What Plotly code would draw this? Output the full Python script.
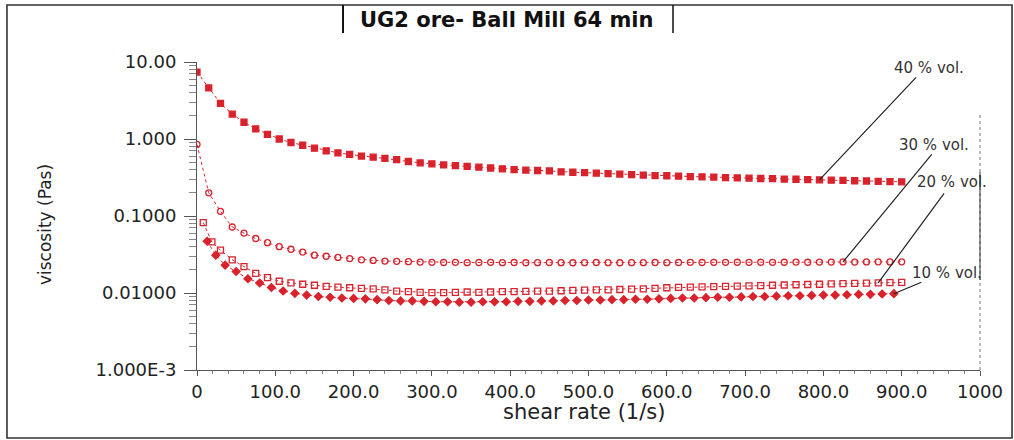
import math
import plotly.graph_objects as go

# Shear-rate sweeps (1/s)
SHEAR_RATE = [0, 15, 30, 45, 60, 75, 90, 105, 120, 135, 150, 165, 180, 195, 210, 225,
              240, 255, 270, 285, 300, 315, 330, 345, 360, 375, 390, 405, 420, 435, 450,
              465, 480, 495, 510, 525, 540, 555, 570, 585, 600, 615, 630, 645, 660, 675,
              690, 705, 720, 735, 750, 765, 780, 795, 810, 825, 840, 855, 870, 885, 900]
SHEAR_RATE_20 = [8, 19, 30, 45, 60, 75, 90, 105, 120, 135, 150, 165, 180, 195, 210, 225,
                 240, 255, 270, 285, 300, 315, 330, 345, 360, 375, 390, 405, 420, 435, 450,
                 465, 480, 495, 510, 525, 540, 555, 570, 585, 600, 615, 630, 645, 660, 675,
                 690, 705, 720, 735, 750, 765, 780, 795, 810, 825, 840, 855, 870, 885, 900]
SHEAR_RATE_10 = [13, 24, 36, 50, 65, 80, 95, 110, 125, 140, 155, 170, 185, 200, 215, 230,
                 245, 260, 275, 290, 305, 320, 335, 350, 365, 380, 395, 410, 425, 440, 455,
                 470, 485, 500, 515, 530, 545, 560, 575, 590, 605, 620, 635, 650, 665, 680,
                 695, 710, 725, 740, 755, 770, 785, 800, 815, 830, 845, 860, 875, 890]

# Viscosity (Pas) for each solids concentration
VISC_40 = [7.4, 4.6, 2.9, 2.1, 1.65, 1.35, 1.15, 1.0, 0.90, 0.83,
           0.76, 0.70, 0.66, 0.63, 0.60, 0.58, 0.56, 0.54, 0.51, 0.49,
           0.475, 0.46, 0.45, 0.44, 0.43, 0.42, 0.41, 0.40, 0.395, 0.39,
           0.385, 0.375, 0.37, 0.365, 0.36, 0.355, 0.35, 0.345, 0.34, 0.335,
           0.333, 0.33, 0.325, 0.322, 0.32, 0.315, 0.312, 0.31, 0.307, 0.305,
           0.302, 0.30, 0.297, 0.295, 0.292, 0.29, 0.287, 0.285, 0.282, 0.28,
           0.278]
VISC_30 = [0.85, 0.20, 0.115, 0.072, 0.060, 0.051, 0.045, 0.040, 0.037, 0.034,
           0.031, 0.030, 0.029, 0.028, 0.027, 0.0265, 0.026, 0.0258, 0.0255, 0.0252,
           0.0250, 0.0249, 0.0250, 0.0248, 0.0249, 0.0250, 0.0248, 0.0249, 0.0247, 0.0248,
           0.0249, 0.0248, 0.0247, 0.0248, 0.0249, 0.0248, 0.0247, 0.0248, 0.0248, 0.0249,
           0.0248, 0.0249, 0.0250, 0.0249, 0.0250, 0.0250, 0.0251, 0.0250, 0.0251, 0.0250,
           0.0251, 0.0252, 0.0251, 0.0252, 0.0252, 0.0253, 0.0252, 0.0253, 0.0254, 0.0253,
           0.0254]
VISC_20 = [0.082, 0.046, 0.036, 0.027, 0.022, 0.018, 0.0158, 0.0142, 0.0135, 0.0130,
           0.0126, 0.0122, 0.0119, 0.0117, 0.0115, 0.0113, 0.0110, 0.0106, 0.0104, 0.0102,
           0.0101, 0.0101, 0.0102, 0.0103, 0.0102, 0.0103, 0.0104, 0.0104, 0.0105, 0.0106,
           0.0106, 0.0107, 0.0108, 0.0109, 0.0110, 0.0110, 0.0111, 0.0112, 0.0113, 0.0115,
           0.0117, 0.0118, 0.0119, 0.0120, 0.0121, 0.0122, 0.0123, 0.0124, 0.0125, 0.0126,
           0.0127, 0.0128, 0.0129, 0.0130, 0.0131, 0.0132, 0.0133, 0.0134, 0.0135, 0.0136,
           0.0137]
VISC_10 = [0.047, 0.031, 0.023, 0.019, 0.0153, 0.0135, 0.0118, 0.0106, 0.0099, 0.0094,
           0.0090, 0.0088, 0.0086, 0.0085, 0.0084, 0.0082, 0.0080, 0.0079, 0.0079, 0.0078,
           0.0077, 0.0077, 0.0076, 0.0076, 0.0077, 0.0077, 0.0077, 0.0078, 0.0078, 0.0079,
           0.0079, 0.0080, 0.0080, 0.0081, 0.0081, 0.0082, 0.0082, 0.0083, 0.0083, 0.0084,
           0.0085, 0.0086, 0.0086, 0.0087, 0.0088, 0.0088, 0.0089, 0.0090, 0.0090, 0.0091,
           0.0092, 0.0092, 0.0093, 0.0094, 0.0094, 0.0095, 0.0096, 0.0096, 0.0097, 0.0098]

SERIES_LABELS = ["40 % vol.", "30 % vol.", "20 % vol.", "10 % vol."]
# shear rate on each curve that its label line points at
LABEL_TARGETS = [795, 825, 870, 890]

X_TICKS = [0, 100, 200, 300, 400, 500, 600, 700, 800, 900, 1000]
X_TICK_LABELS = ["0", "100.0", "200.0", "300.0", "400.0", "500.0",
                 "600.0", "700.0", "800.0", "900.0", "1000"]
Y_TICKS = [0.001, 0.01, 0.1, 1, 10]
Y_TICK_LABELS = ["1.000E-3", "0.01000", "0.1000", "1.000", "10.00"]

TITLE = "UG2 ore- Ball Mill 64 min"

RED = "#d8232c"
INK = "#222222"
FONT = "DejaVu Sans"

series = [
    (SHEAR_RATE, VISC_40, "square"),
    (SHEAR_RATE, VISC_30, "circle-open"),
    (SHEAR_RATE_20, VISC_20, "square-open"),
    (SHEAR_RATE_10, VISC_10, "diamond"),
]

fig = go.Figure()
for label, (xs, ys, symbol) in zip(SERIES_LABELS, series):
    fig.add_trace(go.Scatter(
        x=xs, y=ys, mode="lines+markers", name=label,
        line=dict(color=RED, width=1, dash="dot"),
        marker=dict(symbol=symbol, size=6, color=RED,
                    line=dict(color=RED, width=1.3)),
    ))

# label texts, placed just above-right of their leader lines
label_pos = [(0.935, 0.980), (0.941, 0.731), (0.964, 0.610), (0.958, 0.315)]
# leader line tails, pixel offsets from the curve point
leader_offsets = [(98, -104), (90, -109), (67, -91), (29, -12)]

annotations = []
for label, (xs, ys, _), target, (px, py), (ax, ay) in zip(
        SERIES_LABELS, series, LABEL_TARGETS, label_pos, leader_offsets):
    idx = min(range(len(xs)), key=lambda i: abs(xs[i] - target))
    annotations.append(dict(
        x=xs[idx], y=math.log10(ys[idx]), xref="x", yref="y",
        text="", showarrow=True, arrowhead=0, arrowwidth=1.2,
        arrowcolor="#222", ax=ax, ay=ay, standoff=0, startstandoff=0,
    ))
    annotations.append(dict(
        x=px, y=py, xref="paper", yref="paper", text=label, showarrow=False,
        font=dict(family=FONT, size=15, color="#333"),
        xanchor="center", yanchor="middle",
    ))

annotations += [
    dict(x=0.396, y=1.136, xref="paper", yref="paper", text="<b>" + TITLE + "</b>",
         showarrow=False, font=dict(family=FONT, size=21, color="#111"),
         xanchor="center", yanchor="middle"),
    dict(x=0.494, y=-0.136, xref="paper", yref="paper", text="shear rate (1/s)",
         showarrow=False, font=dict(family=FONT, size=21, color=INK),
         xanchor="center", yanchor="middle"),
    dict(x=-0.194, y=0.471, xref="paper", yref="paper", text="viscosity (Pas)",
         showarrow=False, textangle=-90, font=dict(family=FONT, size=17, color=INK),
         xanchor="center", yanchor="middle"),
]

shapes = [
    # outer frame
    dict(type="rect", xref="paper", yref="paper", x0=-0.2427, x1=1.0409,
         y0=-0.2208, y1=1.185, line=dict(color="#333", width=1.6)),
    # title bracket
    dict(type="line", xref="paper", yref="paper", x0=0.1865, x1=0.1865,
         y0=1.094, y1=1.185, line=dict(color="#111", width=2)),
    dict(type="line", xref="paper", yref="paper", x0=0.6079, x1=0.6079,
         y0=1.094, y1=1.185, line=dict(color="#111", width=1.5)),
    # right-hand frame of the plot
    dict(type="line", xref="paper", yref="paper", x0=1, x1=1, y0=0, y1=0.83,
         line=dict(color="#777", width=1, dash="dot")),
    dict(type="line", xref="paper", yref="paper", x0=1, x1=1, y0=0.292, y1=0.643,
         line=dict(color="#333", width=1)),
]

fig.update_layout(
    width=1014, height=440,
    margin=dict(l=197, r=34, t=62, b=70),
    paper_bgcolor="white", plot_bgcolor="white",
    showlegend=False,
    annotations=annotations,
    shapes=shapes,
    xaxis=dict(
        range=[0, 1000], tickmode="array", tickvals=X_TICKS, ticktext=X_TICK_LABELS,
        showgrid=False, zeroline=False, showline=True, linecolor="#555", linewidth=1,
        ticks="outside", ticklen=5, tickcolor="#555",
        minor=dict(ticks="outside", ticklen=3, dtick=20, tickcolor="#888", showgrid=False),
        tickfont=dict(family=FONT, size=18, color=INK), ticklabelstandoff=0,
    ),
    yaxis=dict(
        type="log", range=[-3, 1], tickmode="array", tickvals=Y_TICKS,
        ticktext=Y_TICK_LABELS,
        showgrid=False, zeroline=False, showline=True, linecolor="#555", linewidth=1,
        ticks="outside", ticklen=12, tickcolor="#555",
        minor=dict(ticks="outside", ticklen=7, dtick="D1", tickcolor="#888", showgrid=False),
        tickfont=dict(family=FONT, size=18, color=INK), ticklabelstandoff=4,
    ),
)

fig.write_html("out.html")
